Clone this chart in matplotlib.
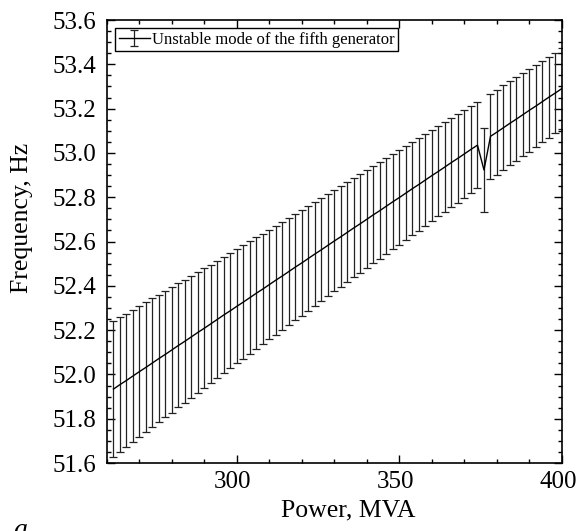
import matplotlib
matplotlib.use('Agg')
import matplotlib.pyplot as plt
import matplotlib.transforms as mtransforms
from matplotlib.ticker import MultipleLocator

plt.rcParams['font.family'] = ['Liberation Serif', 'DejaVu Serif']
plt.rcParams['mathtext.fontset'] = 'stix'

# power, MVA
power = list(range(262, 401, 2))
# frequency, Hz
freq = [51.934, 51.954, 51.973, 51.993, 52.013, 52.032, 52.052, 52.072, 52.091, 52.111,
        52.131, 52.150, 52.170, 52.190, 52.209, 52.229, 52.249, 52.269, 52.288, 52.308,
        52.327, 52.347, 52.367, 52.386, 52.406, 52.426, 52.445, 52.465, 52.485, 52.504,
        52.524, 52.544, 52.563, 52.583, 52.603, 52.622, 52.642, 52.662, 52.681, 52.701,
        52.721, 52.740, 52.760, 52.780, 52.799, 52.819, 52.839, 52.858, 52.878, 52.898,
        52.917, 52.937, 52.957, 52.976, 52.996, 53.016, 53.035, 52.923, 53.075, 53.094,
        53.114, 53.134, 53.153, 53.173, 53.193, 53.212, 53.232, 53.252, 53.271, 53.291]
# error half-width, Hz
err = [0.308, 0.305, 0.302, 0.299, 0.296, 0.294, 0.291, 0.288, 0.285, 0.283,
       0.280, 0.277, 0.275, 0.272, 0.270, 0.267, 0.265, 0.263, 0.260, 0.258,
       0.256, 0.254, 0.252, 0.250, 0.248, 0.246, 0.244, 0.242, 0.240, 0.238,
       0.236, 0.234, 0.232, 0.230, 0.228, 0.227, 0.225, 0.224, 0.222, 0.221,
       0.219, 0.218, 0.216, 0.215, 0.213, 0.212, 0.210, 0.209, 0.207, 0.206,
       0.204, 0.203, 0.201, 0.200, 0.198, 0.197, 0.195, 0.190, 0.193, 0.192,
       0.191, 0.190, 0.189, 0.188, 0.187, 0.186, 0.184, 0.183, 0.182, 0.181]

fig = plt.figure(figsize=(5.77, 5.31), dpi=100)
ax = fig.add_axes([0.1854, 0.128, 0.7886, 0.8343])

ax.errorbar(power, freq, yerr=err, color='black', ecolor='#222222', lw=1.0,
            elinewidth=0.9, capsize=3, capthick=0.9,
            label='Unstable mode of the fifth generator')

ax.set_xlim(260, 400)
ax.set_ylim(51.6, 53.6)
ax.xaxis.set_major_locator(MultipleLocator(50))
ax.xaxis.set_minor_locator(MultipleLocator(10))
ax.yaxis.set_major_locator(MultipleLocator(0.2))
ax.yaxis.set_minor_locator(MultipleLocator(0.05))
ax.yaxis.set_major_formatter(plt.FormatStrFormatter('%.1f'))
ax.tick_params(which='both', direction='in', top=True, right=True, labelsize=18, width=1)
ax.tick_params(which='major', length=6)
ax.tick_params(which='minor', length=3)
ax.tick_params(axis='y', pad=8)
ax.tick_params(axis='x', pad=6)
for s in ax.spines.values():
    s.set_linewidth(1.2)

# x tick labels sit a little left of their ticks in the original
shift = mtransforms.ScaledTranslation(-4 / 100, 0, fig.dpi_scale_trans)
for lab in ax.get_xticklabels():
    lab.set_transform(lab.get_transform() + shift)

ax.set_xlabel('Power, MVA', fontsize=18.5)
ax.set_ylabel('Frequency, Hz', fontsize=18.5)
ax.xaxis.set_label_coords(0.531, -0.082)
ax.yaxis.set_label_coords(-0.163, 0.553)

leg = ax.legend(loc='upper left', fontsize=12, frameon=True, fancybox=False,
                borderaxespad=0.5, borderpad=0.2, handlelength=1.9,
                handletextpad=0.1, framealpha=1)
leg.get_frame().set_edgecolor('black')
leg.get_frame().set_linewidth(1.0)

fig.text(0.022, -0.012, 'a', fontsize=20, style='italic')

fig.savefig('out.png', dpi=100)
